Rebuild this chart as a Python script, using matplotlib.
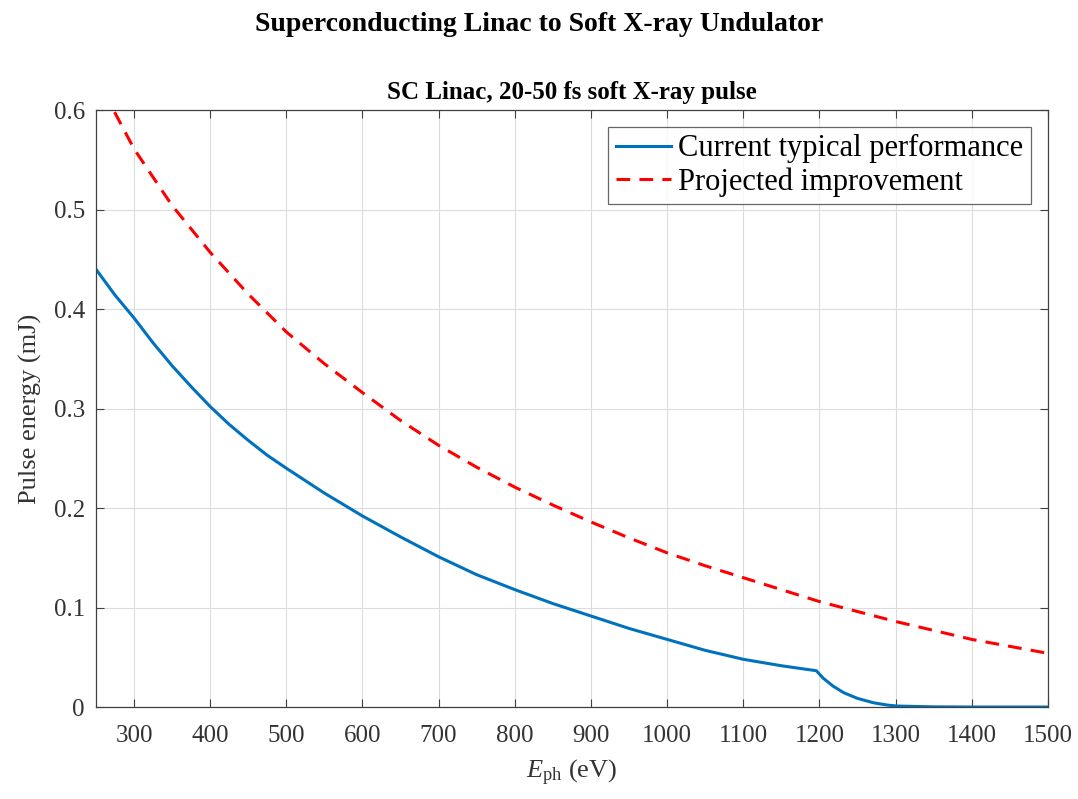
import matplotlib.pyplot as plt

plt.rcParams['font.family'] = ['Liberation Serif', 'DejaVu Serif']
plt.rcParams['mathtext.fontset'] = 'custom'
plt.rcParams['mathtext.rm'] = 'Liberation Serif'
plt.rcParams['mathtext.it'] = 'Liberation Serif:italic'

# photon energy (eV) and pulse energy (mJ)
e_current = [250, 275, 300, 325, 350, 375, 400, 425, 450, 475, 500, 550, 600,
             650, 700, 750, 800, 850, 900, 950, 1000, 1050, 1100, 1150, 1196,
             1205, 1218, 1232, 1250, 1271, 1289, 1302, 1350, 1400, 1450, 1500]
p_current = [0.440, 0.414, 0.391, 0.366, 0.343, 0.322, 0.302, 0.284, 0.268,
             0.253, 0.240, 0.215, 0.192, 0.171, 0.151, 0.133, 0.118, 0.104,
             0.0915, 0.079, 0.068, 0.057, 0.048, 0.0415, 0.0365, 0.029, 0.021,
             0.0144, 0.0087, 0.0043, 0.002, 0.001, 0.0002, 0.0, 0.0, 0.0]

e_projected = [250, 273, 300, 350, 400, 450, 500, 550, 600, 650, 700, 750, 800,
               850, 900, 950, 1000, 1050, 1100, 1150, 1200, 1250, 1300, 1350,
               1400, 1450, 1500]
p_projected = [0.640, 0.600, 0.561, 0.504, 0.457, 0.415, 0.377, 0.345, 0.316,
               0.288, 0.263, 0.241, 0.221, 0.203, 0.186, 0.170, 0.155, 0.142,
               0.130, 0.118, 0.106, 0.096, 0.086, 0.077, 0.068, 0.061, 0.054]

xticks = list(range(300, 1501, 100))
yticks = [0, 0.1, 0.2, 0.3, 0.4, 0.5, 0.6]
ytick_labels = ['0', '0.1', '0.2', '0.3', '0.4', '0.5', '0.6']

fig = plt.figure(figsize=(10.78, 7.99), dpi=100)
ax = fig.add_axes([0.089, 0.1151, 0.883, 0.7472])

ax.plot(e_current, p_current, color='#0072BD', lw=2.2,
        label='Current typical performance')
ax.plot(e_projected, p_projected, color='red', lw=2.2, ls=(0, (4.5, 3)),
        label='Projected improvement')

ax.set_xlim(250, 1500)
ax.set_ylim(0, 0.6)
ax.set_xticks(xticks)
ax.set_yticks(yticks)
ax.set_yticklabels(ytick_labels)
ax.grid(True, color='#dcdcdc', lw=0.8)
ax.set_axisbelow(True)
ax.tick_params(axis='both', direction='in', top=True, right=True, length=6,
               width=0.8, colors='#404040', labelsize=18,
               labelcolor='#333333')
ax.tick_params(axis='x', pad=13)
ax.tick_params(axis='y', pad=8)
for s in ax.spines.values():
    s.set_color('#404040')
    s.set_linewidth(0.9)

ax.set_xlabel(r'$E_{\mathrm{ph}}$ (eV)', fontsize=19, color='#333333', labelpad=8)
ax.set_ylabel('Pulse energy (mJ)', fontsize=19, color='#333333', labelpad=8)
ax.set_title('SC Linac, 20-50 fs soft X-ray pulse', fontsize=18,
             fontweight='bold', pad=8)
fig.suptitle('Superconducting Linac to Soft X-ray Undulator', fontsize=20,
             fontweight='bold', y=0.985)

leg = ax.legend(loc='upper right', fontsize=22, frameon=True, fancybox=False,
                handlelength=1.8, borderpad=0.25, labelspacing=0.12,
                handletextpad=0.25, borderaxespad=0.55)
leg.get_frame().set_edgecolor('#404040')
leg.get_frame().set_linewidth(0.9)

plt.savefig('out.png', dpi=100)
